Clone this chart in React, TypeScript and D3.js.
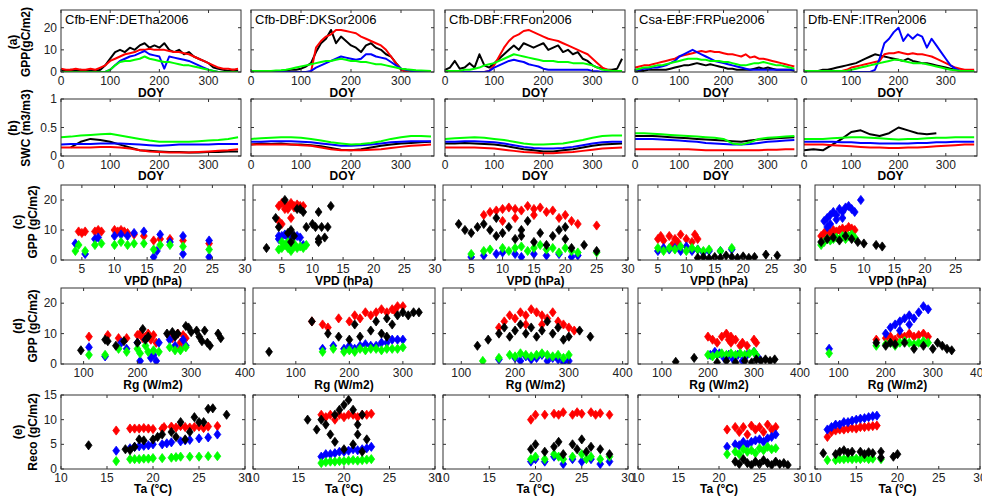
import React from "react";
import * as d3 from "d3";

type Pt = [number, number];
type Val = number | null;

const FONT = "'Liberation Sans', Arial, Helvetica, sans-serif";
const COLORS = { black: "#000000", red: "#ff0000", blue: "#0000ff", green: "#00ff00" };

const sites = ["Cfb-ENF:DETha2006", "Cfb-DBF:DKSor2006", "Cfb-DBF:FRFon2006", "Csa-EBF:FRPue2006", "Dfb-ENF:ITRen2006"];

// ---- row (a): daily GPP, read every 10 days ----
const doyA = [0, 10, 20, 30, 40, 50, 60, 70, 80, 90, 100, 110, 120, 130, 140, 150, 160, 170, 180, 190, 200, 210, 220, 230, 240, 250, 260, 270, 280, 290, 300, 310, 320, 330, 340, 350, 360];

const a1Black = [1, 0.5, 1, 0.5, 1, 0.5, 1, 0.5, 1, 3, 6, 9, 10, 9, 11, 10, 12, 13, 11, 12, 11, 13, 10, 9, 10, 8, 9, 7, 6, 5, 4, 2, 1.5, 1, 0.5, 1, 0.5];
const a1Red = [1.5, 1, 1, 1.5, 1, 1, 1.5, 1, 2, 3, 5, 6, 7, 8, 8.5, 9, 10, 10, 10.5, 10, 10, 10, 9.5, 9, 9, 8.5, 8, 7, 6, 5, 4, 3, 2, 1.5, 1.5, 1, 1.5];
const a1Blue = [0, 0, 0, 0, 0, 0, 0, 0, 0, 0, 1, 3, 5, 6, 7, 7.5, 8.5, 9.5, 8, 7.5, 7, 1.5, 7, 6.5, 6, 5.5, 5, 4, 3, 2, 1, 0.5, 0, 0, 0, 0, 0];
const a1Green = [0, 0, 0, 0, 0, 0, 0, 0, 0, 0, 1, 3, 4.5, 5, 5, 5.5, 6, 7, 6, 5.5, 5, 4.5, 4.5, 4, 3.5, 3, 3, 2.5, 2, 1.5, 1, 0.5, 0, 0, 0, 0, 0];

const a2Black = [0.3, 0.5, 0.3, 0.5, 0.3, 0.5, 0.5, 0.8, 1, 1, 1.5, 2.5, 4, 9, 13, 15, 19, 13, 16, 14, 12, 11, 9, 12, 13, 11, 10, 8, 7, 4, 1.5, 1, 0.5, 0.5, 0.3, 0.3, 0.3];
const a2Red = [0, 0, 0, 0, 0, 0, 0, 0, 0, 0, 0, 0, 0, 11, 14, 16, 17, 19, 19, 18.5, 18, 17.5, 16, 15, 14, 13, 12, 10, 7, 4, 1, 0, 0, 0, 0, 0, 0];
const a2Blue = [0, 0, 0, 0, 0, 0, 0, 0, 0, 0, 0, 0, 0.5, 2, 3, 4, 5, 6, 7, 6.5, 6, 5.5, 6, 8, 8, 7, 6.5, 6, 4.5, 3, 1.5, 1, 0.5, 0.5, 0.3, 0.3, 0.3];
const a2Green = [0.5, 0.5, 0.5, 0.5, 0.5, 0.7, 0.8, 1, 1.5, 2, 2.5, 3, 3.5, 4, 4.5, 5, 5, 5.5, 6, 5.5, 5, 5, 4.5, 4.5, 4, 3.5, 3.5, 3, 2.5, 2, 1.5, 1.2, 1, 0.8, 0.7, 0.6, 0.5];

const a3Black = [1, 2, 5, 1.5, 2, 4, 2, 8, 3, 2, 4, 6, 8, 10, 12, 10, 13, 12, 11, 12, 13, 10, 11, 12, 9, 10, 8, 9, 6, 5, 3, 2, 1.5, 1, 1, 1.5, 6];
const a3Red = [0, 0, 0, 0, 0, 0, 0, 0, 0, 0.5, 3, 7, 11, 14, 16, 17, 18.5, 19, 18, 17, 16, 15, 14.5, 14, 13, 12, 11, 10, 9, 8, 6, 4, 2, 1, 0.5, 0.5, 0.5];
const a3Blue = [0, 0, 0, 0, 0, 0, 0, 0, 0, 0.5, 2, 3, 4, 5, 5.5, 5, 4.5, 3.5, 3, 2.5, 1.5, 1, 1, 1, 1, 1, 1, 1, 1, 1, 0.5, 0.3, 0, 0, 0, 0, 0];
const a3Green = [0.5, 0.5, 0.5, 0.5, 1, 1, 1.5, 2, 3, 3.5, 4, 5, 6, 7, 8, 7.5, 7, 6.5, 6, 5.5, 5, 5, 5, 4.5, 4.5, 4.5, 4, 4, 4, 3.5, 3, 2, 1, 0.8, 0.5, 0.5, 0.5];

const a4Black = [0.5, 0.5, 0.5, 1, 1, 1, 1, 1, 1.5, 2, 2.5, 3, 3, 3.5, 4, 3.5, 3, 3.5, 3, 2.5, 2, 1.5, 1.5, 1, 1, 1, 1, 1.5, 2, 1.5, 2, 1.5, 1, 1, 1, 1, 0.5];
const a4Red = [2, 2.5, 3, 3, 3.5, 4, 4.5, 5, 5.5, 6, 7, 7.5, 8, 8.5, 9, 9.5, 9, 9.5, 9, 9, 8.5, 8, 8, 7.5, 7, 8, 6.5, 7, 6, 6, 5.5, 5, 4.5, 4, 3.5, 3, 2.5];
const a4Blue = [1, 1, 1.5, 1.5, 2, 2, 2.5, 3, 4, 5, 7, 8, 9, 10, 9, 8, 7, 6, 5, 4.5, 4, 3.5, 3, 2.5, 2, 1.5, 1, 1, 1, 1, 1, 1, 1, 1, 1, 1, 1];
const a4Green = [1, 1.5, 2, 2, 2.5, 3, 3, 3.5, 4, 4.5, 5, 5.5, 6, 6, 6, 5.5, 5.5, 5, 5, 5, 4.5, 4.5, 4, 3.5, 3, 3, 3.5, 4, 4, 4.5, 4, 3.5, 3, 3, 2.5, 2, 1.5];

const a5Black = [0.5, 0.5, 0.5, 0.5, 1, 1, 1.5, 2, 2.5, 3, 3.5, 4, 5, 6, 7, 8, 7.5, 7, 6.5, 6, 5.5, 5, 6, 5, 4.5, 4, 4, 3.5, 3, 2.5, 2, 1.5, 1, 0.5, 0.3, 0.3, 0.3];
const a5Red = [0.5, 0.5, 0.5, 0.5, 0.5, 0.5, 0.5, 0.5, 0.5, 1, 2, 2.5, 3, 3.5, 4, 4.5, 5, 8, 8.5, 8.5, 9, 8.5, 8, 8.5, 8, 8, 7.5, 7, 6, 5, 4, 3, 2, 1.5, 1, 1, 1];
const a5Blue = [0, 0, 0, 0, 0, 0, 0, 0, 0, 0, 0, 0, 0, 0, 0, 1, 6, 13, 15, 18, 20, 14, 17, 15, 17, 16, 11, 15, 12, 9, 6, 3, 1.5, 0.5, 0.3, 0, 0];
const a5Green = [0.5, 0.5, 0.5, 0.5, 0.5, 0.5, 0.5, 0.5, 0.5, 0.5, 1, 1.5, 2, 2.5, 3, 3.5, 4, 4.5, 5, 5.5, 5.5, 5, 4.5, 4, 4, 4, 3.5, 3, 2.5, 2, 1.5, 1, 0.8, 0.5, 0.5, 0.5, 0.5];

// ---- row (b): soil water content, read every 20 days ----
const doyB = [0, 20, 40, 60, 80, 100, 120, 140, 160, 180, 200, 220, 240, 260, 280, 300, 320, 340, 360];

const b1Black: Val[] = [null, 0.15, 0.25, 0.3, 0.28, 0.25, 0.2, 0.15, 0.1, 0.09, 0.08, 0.07, 0.07, 0.06, 0.06, 0.07, 0.07, 0.08, 0.08];
const b1Red = [0.15, 0.15, 0.15, 0.15, 0.16, 0.16, 0.15, 0.13, 0.1, 0.08, 0.07, 0.06, 0.06, 0.06, 0.07, 0.08, 0.09, 0.1, 0.12];
const b1Blue = [0.2, 0.21, 0.21, 0.21, 0.22, 0.22, 0.22, 0.21, 0.2, 0.19, 0.18, 0.19, 0.2, 0.2, 0.2, 0.2, 0.21, 0.21, 0.21];
const b1Green = [0.33, 0.34, 0.36, 0.37, 0.38, 0.39, 0.36, 0.33, 0.3, 0.27, 0.25, 0.25, 0.25, 0.25, 0.26, 0.27, 0.28, 0.3, 0.33];

const b2Black = [0.2, 0.22, 0.21, 0.22, 0.2, 0.2, 0.19, 0.17, 0.14, 0.11, 0.1, 0.12, 0.15, 0.18, 0.2, 0.22, 0.23, 0.24, 0.25];
const b2Red = [0.2, 0.2, 0.2, 0.2, 0.2, 0.19, 0.18, 0.15, 0.12, 0.1, 0.1, 0.1, 0.11, 0.12, 0.14, 0.16, 0.18, 0.19, 0.2];
const b2Blue = [0.25, 0.25, 0.26, 0.26, 0.26, 0.25, 0.24, 0.22, 0.2, 0.18, 0.18, 0.19, 0.2, 0.22, 0.24, 0.25, 0.26, 0.26, 0.26];
const b2Green = [0.3, 0.31, 0.32, 0.33, 0.33, 0.32, 0.3, 0.27, 0.24, 0.22, 0.2, 0.21, 0.23, 0.26, 0.3, 0.33, 0.35, 0.35, 0.34];

const b3Black = [0.22, 0.22, 0.23, 0.22, 0.21, 0.2, 0.18, 0.15, 0.12, 0.1, 0.08, 0.08, 0.1, 0.12, 0.15, 0.18, 0.2, 0.21, 0.22];
const b3Red = [0.15, 0.15, 0.15, 0.15, 0.14, 0.13, 0.11, 0.09, 0.07, 0.06, 0.05, 0.05, 0.06, 0.07, 0.09, 0.11, 0.13, 0.14, 0.15];
const b3Blue = [0.25, 0.25, 0.26, 0.26, 0.25, 0.24, 0.22, 0.19, 0.16, 0.14, 0.13, 0.13, 0.14, 0.16, 0.19, 0.22, 0.24, 0.25, 0.25];
const b3Green = [0.3, 0.31, 0.32, 0.33, 0.32, 0.3, 0.28, 0.25, 0.22, 0.2, 0.2, 0.21, 0.22, 0.25, 0.28, 0.32, 0.35, 0.36, 0.36];

const b4Black = [0.35, 0.35, 0.35, 0.34, 0.33, 0.32, 0.31, 0.3, 0.29, 0.28, 0.27, 0.26, 0.25, 0.27, 0.29, 0.3, 0.31, 0.32, 0.33];
const b4Red = [0.12, 0.12, 0.12, 0.12, 0.12, 0.12, 0.12, 0.11, 0.1, 0.1, 0.1, 0.1, 0.1, 0.1, 0.1, 0.11, 0.11, 0.12, 0.12];
const b4Blue = [0.3, 0.3, 0.3, 0.29, 0.28, 0.27, 0.26, 0.25, 0.23, 0.22, 0.21, 0.2, 0.2, 0.21, 0.23, 0.25, 0.26, 0.27, 0.28];
const b4Green = [0.4, 0.4, 0.39, 0.38, 0.37, 0.36, 0.35, 0.34, 0.33, 0.32, 0.3, 0.22, 0.2, 0.24, 0.3, 0.32, 0.33, 0.34, 0.35];

const b5Black: Val[] = [0.1, 0.12, 0.1, 0.2, 0.3, 0.42, 0.45, 0.38, 0.35, 0.4, 0.5, 0.45, 0.4, 0.38, 0.4, null, null, null, null];
const b5Red = [0.2, 0.2, 0.2, 0.19, 0.18, 0.17, 0.16, 0.15, 0.15, 0.14, 0.14, 0.15, 0.15, 0.16, 0.17, 0.18, 0.19, 0.2, 0.2];
const b5Blue = [0.25, 0.25, 0.25, 0.25, 0.24, 0.24, 0.23, 0.23, 0.22, 0.22, 0.22, 0.22, 0.23, 0.23, 0.24, 0.24, 0.25, 0.25, 0.25];
const b5Green = [0.3, 0.3, 0.3, 0.31, 0.32, 0.33, 0.33, 0.32, 0.31, 0.3, 0.29, 0.3, 0.3, 0.31, 0.32, 0.32, 0.33, 0.33, 0.33];

// ---- row (c): GPP vs VPD ----
const c1Red: Pt[] = [[4.5, 9.5], [5, 9], [5.5, 9.5], [7, 9.5], [7.5, 10], [8, 9.5], [10, 10], [10.5, 9.5], [11, 10], [11.5, 9.5], [12, 9], [13, 8.5], [14.5, 8], [16, 6.5], [17, 7], [18.5, 7], [20.5, 6.5], [24.5, 5.5]];
const c1Blue: Pt[] = [[4, 5.5], [5.5, 2], [7, 7], [7.5, 7.5], [10, 8], [11, 8.5], [12, 8], [13, 9], [14.5, 9.5], [16, 1], [16.5, 3], [17, 8.5], [18.5, 6], [20.5, 8], [20.5, 2], [24.5, 1], [24.5, 6.5]];
const c1Green: Pt[] = [[4, 3], [4.5, 5], [5.5, 3], [7, 5], [8, 5.5], [10, 5], [11, 6], [12, 5], [13, 5.5], [14.5, 5.5], [16, 3.5], [17, 5], [18.5, 5], [20.5, 4.5], [24.5, 3.5]];
const c1Black: Pt[] = [];

const c2Red: Pt[] = [[4.5, 18], [5, 19], [5.5, 18.5], [6, 18], [6.5, 19], [7, 18], [7.5, 18.5], [8, 18], [8.5, 18], [4.5, 13], [5, 12], [6.5, 14], [6, 17], [5.5, 17], [7, 17.5]];
const c2Blue: Pt[] = [[4.5, 8], [5, 8], [5.5, 8.5], [6, 8], [6.5, 8.5], [7, 8], [7.5, 8], [8, 7.5], [4.5, 7], [6, 7.5], [7, 5], [8.5, 5]];
const c2Green: Pt[] = [[4.5, 3.5], [5, 4], [5.5, 5], [6, 4], [6.5, 5], [7, 4.5], [7.5, 4], [8, 4.5], [8.5, 4], [9, 5], [5, 6], [6, 6], [7, 5.5], [6.5, 3]];
const c2Black: Pt[] = [[2.5, 4], [4, 14], [4.5, 11], [5.5, 20], [6, 9], [6.5, 10], [7, 8], [7.5, 17], [8, 17], [8.5, 16], [9, 11], [10, 12], [10.5, 11], [11, 16], [11, 7], [11, 6], [11.5, 11], [12, 7.5], [12.5, 11], [13, 18], [6.5, 6]];

const c3Red: Pt[] = [[7, 15], [8, 16], [9, 16.5], [10, 17], [11, 17.5], [12, 17], [13, 16.5], [14, 18], [15, 17], [16, 17.5], [17, 16], [18, 16.5], [19, 14], [20, 15], [21, 13], [22, 12], [25, 11.5], [10, 13], [12, 14], [15, 15]];
const c3Blue: Pt[] = [[5, 1], [7, 1.5], [9, 2], [10, 2.5], [12, 2], [13, 1], [15, 2], [17, 1.5], [19, 2], [21, 1], [22, 1.5]];
const c3Green: Pt[] = [[5, 2], [7, 3], [8, 3.5], [10, 4], [11, 3], [12, 4], [13, 4.5], [14, 3], [15, 4], [16, 5], [17, 3.5], [18, 4], [19, 2.5], [20, 4], [21, 3], [22, 2.5], [25, 2.5]];
const c3Black: Pt[] = [[3, 12], [4, 10], [5, 9], [6, 11], [7, 12], [8, 10], [9, 8], [10, 9], [11, 11], [12, 7], [13, 8], [14, 13], [15, 6], [16, 9], [17, 5], [18, 8], [19, 10], [20, 7], [21, 4], [23, 5], [25, 3], [9, 14], [13, 10], [20, 11]];

const c4Red: Pt[] = [[5, 7], [5.5, 8], [6, 6.5], [7, 8], [8, 7], [8.5, 6], [9, 8.5], [10, 7], [11, 6], [12, 7], [7.5, 5], [11.5, 8.5]];
const c4Blue: Pt[] = [[5, 3], [6, 4], [7, 3.5], [8, 4], [9, 3], [10, 4.5], [11, 3], [12, 3.5], [13, 2.5], [14, 3], [16, 3], [18, 3.5]];
const c4Green: Pt[] = [[5, 4], [6, 3], [7, 4], [8, 3.5], [9, 4.5], [10, 3], [11, 4], [12, 3.5], [13, 3], [14, 3.5], [16, 3], [18, 4]];
const c4Black: Pt[] = [[12, 0.7], [13, 1], [14, 0.5], [15, 1], [16, 0.7], [17, 1.5], [18, 1], [19, 0.7], [20, 1.2], [21, 0.7], [22, 1], [24, 1.8], [26, 1.5]];

const c5Red: Pt[] = [[3, 8], [3.5, 9], [4, 10], [4.5, 9], [5, 10], [5.5, 9.5], [6, 10], [6.5, 10.5], [7, 10], [7.5, 11], [8, 10.5], [8.5, 10]];
const c5Blue: Pt[] = [[3.5, 13], [4, 14], [4.5, 15], [5, 16], [5.5, 15], [6, 17], [6.5, 16], [7, 17.5], [7.5, 18], [8, 17], [8.5, 16], [9.5, 20], [4.5, 12], [4, 11], [5.5, 13.5], [6.5, 14]];
const c5Green: Pt[] = [[3, 5], [3.5, 6], [4, 7], [4.5, 6.5], [5, 7], [5.5, 7.5], [6, 7], [6.5, 8], [7, 7], [7.5, 8], [8, 8.5], [8.5, 7.5]];
const c5Black: Pt[] = [[3, 6], [4, 7], [5, 7.5], [6, 6.5], [7, 8], [8, 7], [9, 6], [10, 5.5], [12, 5], [13, 4.5]];

// ---- row (d): GPP vs Rg ----
const d1Red: Pt[] = [[110, 9], [145, 9.5], [165, 8.5], [180, 8.5], [200, 9.5], [205, 10], [210, 8.5], [215, 9], [220, 10], [225, 8], [230, 9.5], [235, 7], [260, 9], [265, 8.5], [275, 10], [280, 7], [285, 9.5], [290, 8.5], [280, 5]];
const d1Blue: Pt[] = [[110, 5.5], [140, 2.5], [170, 7], [180, 5], [200, 7], [205, 1], [215, 8], [225, 2], [230, 3], [235, 1], [240, 7], [260, 8], [270, 6], [285, 8], [290, 6]];
const d1Green: Pt[] = [[110, 3], [140, 3], [165, 5], [180, 4], [200, 5], [205, 3.5], [215, 6], [220, 4], [230, 4.5], [240, 4], [260, 5.5], [270, 4.5], [280, 4.5], [290, 5.5]];
const d1Black: Pt[] = [[95, 4.5], [140, 8], [145, 7.5], [160, 6], [175, 7.5], [200, 7], [210, 11.5], [215, 8], [220, 9], [255, 10], [265, 10.5], [270, 9], [275, 10], [290, 12.5], [295, 12], [300, 10.5], [310, 11], [315, 9], [320, 7.5], [325, 11], [330, 7], [335, 6], [350, 10], [355, 8.5]];

const d2Red: Pt[] = [[130, 14], [150, 13], [160, 12], [180, 15], [200, 14], [210, 16], [220, 15], [230, 17], [240, 16], [250, 17], [260, 18], [270, 17], [280, 18], [290, 19], [300, 19], [285, 17.5]];
const d2Blue: Pt[] = [[150, 5], [170, 6], [190, 5], [200, 6], [210, 5], [220, 6], [230, 6.5], [240, 6], [250, 6], [260, 7], [270, 7], [280, 8], [290, 8], [300, 8]];
const d2Green: Pt[] = [[150, 4], [170, 5], [190, 4], [200, 4.5], [210, 4], [220, 5], [230, 4.5], [240, 5], [250, 5], [260, 4.5], [270, 5], [280, 5], [290, 5], [300, 5.5]];
const d2Black: Pt[] = [[50, 4], [130, 14], [160, 10], [180, 9], [200, 8], [210, 13], [220, 9], [240, 11], [250, 14], [260, 10], [270, 15], [280, 13], [290, 16], [300, 17], [310, 16], [320, 17], [330, 17], [270, 9]];

const d3Red: Pt[] = [[170, 12], [180, 14], [190, 16], [200, 15], [210, 17], [220, 16], [230, 18], [240, 17], [250, 16], [260, 15], [270, 17], [280, 14], [290, 13], [300, 12], [310, 11], [220, 13], [250, 13]];
const d3Blue: Pt[] = [[170, 1.5], [200, 2], [210, 1], [220, 2.5], [230, 1.5], [240, 2], [250, 3], [260, 1], [270, 2], [280, 1.5], [290, 0.5], [300, 1]];
const d3Green: Pt[] = [[140, 1], [170, 2], [190, 3], [200, 2.5], [210, 3.5], [220, 3], [230, 2.5], [240, 3], [250, 3.5], [260, 3], [270, 2.5], [280, 3], [290, 2], [300, 3]];
const d3Black: Pt[] = [[130, 6], [150, 8], [170, 10], [180, 12], [190, 9], [200, 11], [210, 13], [220, 10], [230, 12], [240, 9], [250, 11], [260, 14], [270, 10], [280, 12], [290, 8], [300, 9], [320, 11], [340, 9]];

const d4Red: Pt[] = [[200, 9], [210, 8], [220, 7], [230, 9], [240, 10], [245, 8], [250, 7], [260, 8], [270, 6], [275, 7], [285, 6], [300, 8], [305, 7], [250, 9]];
const d4Blue: Pt[] = [[205, 3], [215, 4], [225, 3.5], [235, 2], [245, 3], [255, 1.5], [265, 3], [275, 1], [285, 3], [300, 4], [310, 2]];
const d4Green: Pt[] = [[200, 3], [210, 2.5], [220, 3], [230, 3.5], [240, 3], [250, 3.5], [260, 3], [270, 3.5], [280, 3], [290, 3.5], [300, 4], [305, 3]];
const d4Black: Pt[] = [[130, 0.7], [170, 2], [220, 0.5], [240, 1], [260, 0.5], [280, 1], [295, 0.5], [305, 1.5], [315, 1], [325, 1.5], [335, 1], [345, 1.5]];

const d5Red: Pt[] = [[180, 8], [200, 8.5], [210, 9], [220, 8], [230, 9.5], [240, 9], [250, 10], [260, 9], [270, 9.5], [280, 10], [290, 9]];
const d5Blue: Pt[] = [[80, 5], [200, 10], [210, 12], [220, 13], [230, 14], [240, 15], [250, 16], [260, 15], [270, 17], [280, 19], [290, 18], [230, 11], [250, 13]];
const d5Green: Pt[] = [[80, 3.5], [180, 6], [200, 6.5], [210, 7], [220, 6], [230, 7], [240, 7.5], [250, 7], [260, 6.5], [270, 7], [280, 7.5], [290, 7]];
const d5Black: Pt[] = [[180, 7], [200, 6], [210, 7], [220, 6.5], [240, 7], [260, 5], [280, 6], [300, 5], [310, 7], [320, 6], [330, 5], [340, 4.5]];

// ---- row (e): Reco vs Ta ----
const e1Red: Pt[] = [[16, 7.8], [17.5, 8.2], [18, 8.2], [18.5, 8.2], [19, 8.3], [19.5, 8.2], [20, 8.1], [21, 8.2], [21.2, 8.5], [22, 8.6], [22.5, 8.4], [23, 8.7], [23.5, 8.5], [24, 8.4], [24.5, 8.5], [25, 8.6], [25.5, 8.3], [26, 8.6], [27, 8.7]];
const e1Blue: Pt[] = [[16, 3.7], [17.5, 4.2], [18, 4.5], [18.5, 4.6], [19, 4.7], [19.5, 4.8], [20, 5], [21, 5], [21.5, 5.2], [22, 5.4], [23, 5.6], [23.5, 5.8], [24, 5.9], [25, 6.2], [26, 6.4], [27, 7]];
const e1Green: Pt[] = [[16, 1.6], [17.5, 2], [18, 2], [18.5, 2], [19, 2.1], [19.5, 2.1], [20, 2.2], [21, 2.2], [22, 2.3], [22.5, 2.4], [23, 2.5], [24, 2.5], [25, 2.5], [26, 2.6], [27, 2.6]];
const e1Black: Pt[] = [[13, 4.8], [17, 4], [17.5, 3.8], [18, 4.5], [18.5, 6], [19, 5.8], [20, 6], [20.5, 6.5], [21, 7], [22, 7.5], [22.5, 6.5], [23, 9.5], [23.5, 6], [24, 7.5], [24.5, 10.5], [25, 9.5], [25.5, 9.5], [26, 12.2], [26.5, 12.3], [28, 11]];

const e2Red: Pt[] = [[17.5, 11], [18, 10.5], [18.5, 11], [19, 10], [19.5, 11], [20, 10.5], [20.5, 11], [21, 11], [21.5, 10.5], [22, 11], [22.5, 11], [23, 11.2]];
const e2Blue: Pt[] = [[17.5, 2.5], [18, 3], [18.5, 3], [19, 3.2], [19.5, 3.5], [20, 3.5], [20.5, 3.7], [21, 4], [21.5, 3.8], [22, 4], [22.5, 4.2], [23, 4.5]];
const e2Green: Pt[] = [[17.5, 1.2], [18, 1.4], [18.5, 1.5], [19, 1.5], [19.5, 1.6], [20, 1.6], [20.5, 1.7], [21, 1.8], [21.5, 1.7], [22, 1.8], [22.5, 1.9], [23, 2]];
const e2Black: Pt[] = [[16, 10], [17, 8], [17.5, 10], [18, 9], [18.5, 7], [19, 11], [19.5, 12], [20, 13], [20.5, 14], [21, 12], [21.5, 9], [22, 11], [22.5, 6], [20, 4], [21, 5], [21.5, 7], [22, 3.5], [19, 5.5]];

const e3Red: Pt[] = [[19.5, 10], [20, 11], [21, 11], [22, 11.2], [22.5, 11], [23, 11.5], [24, 11], [24.5, 11.5], [25, 11.2], [26, 11.5], [26.5, 11], [27, 11.3], [28, 11]];
const e3Blue: Pt[] = [[19.5, 1.5], [20, 2], [21, 1.5], [22, 2.5], [23, 1], [24, 2], [25, 1.5], [26, 2], [27, 1], [28, 1.5]];
const e3Green: Pt[] = [[19.5, 2], [20, 2.5], [21, 2], [22, 3], [22.5, 2.5], [23, 2], [24, 2.5], [25, 3], [25.5, 2], [26, 2.5], [27, 2], [28, 2.5]];
const e3Black: Pt[] = [[19.5, 4], [20, 5], [21, 3.5], [22, 4.5], [22.5, 5.5], [23, 3], [24, 5], [24.5, 4], [25, 6], [25.5, 3.5], [26, 4.5], [27, 4], [28, 3]];

const e4Red: Pt[] = [[21, 8], [22, 8.5], [22.5, 7.5], [23, 8.5], [23.5, 7], [24, 8.8], [24.5, 8], [25, 8.5], [25.5, 7.5], [26, 9], [26.5, 8], [27, 8.5]];
const e4Blue: Pt[] = [[21, 4.5], [22, 5], [22.5, 4.8], [23, 5.5], [23.5, 5], [24, 5.5], [24.5, 5.8], [25, 6], [25.5, 5.5], [26, 6.2], [26.5, 6.5], [27, 7]];
const e4Green: Pt[] = [[21, 3], [22, 3.5], [22.5, 3], [23, 4], [23.5, 3.5], [24, 3.8], [24.5, 3.2], [25, 4.2], [25.5, 3.8], [26, 4.5], [26.5, 4], [27, 4.2]];
const e4Black: Pt[] = [[22, 1.5], [22.5, 1], [23, 2], [23.5, 1.2], [24, 0.8], [24.5, 1.5], [25, 1], [25.5, 1.8], [26, 1.2], [26.5, 0.8], [27, 1.5], [27.5, 1], [28, 1.2], [28.5, 0.8]];

const e5Red: Pt[] = [[11.5, 6.5], [12, 7.5], [12.5, 7.8], [13, 8], [13.5, 8], [14, 8.2], [14.5, 8.3], [15, 8.2], [15.5, 8.5], [16, 8.5], [16.5, 8.6], [17, 8.7], [17.5, 8.8]];
const e5Blue: Pt[] = [[11.5, 8], [12, 8.5], [12.5, 9], [13, 9], [13.5, 9.5], [14, 9.5], [14.5, 9.8], [15, 10], [15.5, 10.2], [16, 10.3], [16.5, 10.5], [17, 10.7], [17.5, 10.8]];
const e5Green: Pt[] = [[11.5, 1.8], [12.5, 1.8], [13, 2], [13.5, 2], [14, 2.1], [14.5, 2], [15, 2.1], [15.5, 2], [16, 2.2], [16.5, 2], [17, 2.1], [18, 2]];
const e5Black: Pt[] = [[11, 3.2], [12.5, 3], [13, 3.5], [13.5, 3.8], [14, 3.3], [14.5, 3.5], [15.5, 3.5], [16, 3], [16.5, 3.4], [17, 3.2], [18, 3.5], [18, 2.3], [19.5, 2.5], [20, 3]];

// ---- layout ----
const colsAB: [number, number][] = [[61, 241], [251, 434], [445, 625], [635, 797], [804, 977]];
const colsCDE: [number, number][] = [[61, 245], [253, 435], [443, 628], [638, 800], [815, 980]];
const rowY = { a: [10, 72], b: [99, 156], c: [185, 260], d: [288, 364], e: [395, 469] };

const doyTicks = [0, 100, 200, 300];
const vpdTicks = [5, 10, 15, 20, 25, 30];
const rgTicks = [100, 200, 300, 400];
const taTicks = [10, 15, 20, 25, 30];

const vpdDomains: [number, number][] = [[1.8, 30], [0.3, 30], [0.5, 30], [1.5, 30], [2, 29]];
const rgDomains: [number, number][] = [[58, 400], [20, 360], [66, 410], [48, 400], [50, 400]];

const diamond = "M0,-4.6L3.4,0L0,4.6L-3.4,0Z";

type LineSeries = { xs: number[]; ys: Val[]; color: string };
type PointSeries = { pts: Pt[]; color: string };

function Panel(props: {
  id: string;
  xr: [number, number];
  yr: number[];
  xDomain: [number, number];
  yDomain: [number, number];
  xTicks: number[];
  yTicks: number[];
  showY: boolean;
  xLabel: string;
  labelY: number;
  title?: string;
  lines?: LineSeries[];
  points?: PointSeries[];
}) {
  const { id, xr, yr, xDomain, yDomain, showY, xLabel, labelY, title } = props;
  const x = d3.scaleLinear().domain(xDomain).range(xr);
  const y = d3.scaleLinear().domain(yDomain).range([yr[1], yr[0]]);
  const xTicks = props.xTicks.filter((t) => t >= xDomain[0] - 1e-9 && t <= xDomain[1] + 1e-9);
  const yTicks = props.yTicks;
  const line = d3
    .line<[number, Val]>()
    .defined((d) => d[1] != null)
    .x((d) => x(d[0]))
    .y((d) => y(d[1] as number));
  const tk = 3;
  return (
    <g>
      <defs>
        <clipPath id={id}>
          <rect x={xr[0]} y={yr[0]} width={xr[1] - xr[0]} height={yr[1] - yr[0]} />
        </clipPath>
      </defs>
      <rect x={xr[0]} y={yr[0]} width={xr[1] - xr[0]} height={yr[1] - yr[0]} fill="#fff" />
      <g clipPath={`url(#${id})`}>
        {(props.lines || []).map((s, i) => (
          <path
            key={i}
            d={line(s.xs.map((v, j) => [v, s.ys[j]] as [number, Val])) || ""}
            fill="none"
            stroke={s.color}
            strokeWidth={2}
            strokeLinejoin="round"
          />
        ))}
        {(props.points || []).map((s, i) => (
          <g key={i} fill={s.color} stroke={s.color} strokeWidth={0.8}>
            {s.pts.map((p, j) => (
              <path key={j} d={diamond} transform={`translate(${x(p[0])},${y(p[1])})`} />
            ))}
          </g>
        ))}
      </g>
      <rect x={xr[0]} y={yr[0]} width={xr[1] - xr[0]} height={yr[1] - yr[0]} fill="none" stroke="#333" strokeWidth={1} />
      {xTicks.map((t) => (
        <g key={"x" + t}>
          <line x1={x(t)} x2={x(t)} y1={yr[1]} y2={yr[1] - tk} stroke="#333" />
          <line x1={x(t)} x2={x(t)} y1={yr[0]} y2={yr[0] + tk} stroke="#333" />
          <text x={x(t)} y={yr[1] + 13} textAnchor="middle" fontSize={12} fill="#222">
            {t}
          </text>
        </g>
      ))}
      {yTicks.map((t) => (
        <g key={"y" + t}>
          <line x1={xr[0]} x2={xr[0] + tk} y1={y(t)} y2={y(t)} stroke="#333" />
          <line x1={xr[1]} x2={xr[1] - tk} y1={y(t)} y2={y(t)} stroke="#333" />
          {showY && (
            <text x={xr[0] - 4} y={y(t) + 4} textAnchor="end" fontSize={12} fill="#222">
              {t}
            </text>
          )}
        </g>
      ))}
      <text x={(xr[0] + xr[1]) / 2} y={labelY} textAnchor="middle" fontSize={12} fontWeight="bold" fill="#000">
        {xLabel}
      </text>
      {title && (
        <text x={xr[0] + 4} y={yr[0] + 14} fontSize={13} fill="#000">
          {title}
        </text>
      )}
    </g>
  );
}

const lineSets = (k: Val[][], xs: number[]): LineSeries[] => [
  { xs, ys: k[0], color: COLORS.black },
  { xs, ys: k[1], color: COLORS.red },
  { xs, ys: k[2], color: COLORS.blue },
  { xs, ys: k[3], color: COLORS.green },
];
const pointSets = (k: Pt[][]): PointSeries[] => [
  { pts: k[0], color: COLORS.red },
  { pts: k[1], color: COLORS.blue },
  { pts: k[2], color: COLORS.green },
  { pts: k[3], color: COLORS.black },
];

const rowA = [
  [a1Black, a1Red, a1Blue, a1Green],
  [a2Black, a2Red, a2Blue, a2Green],
  [a3Black, a3Red, a3Blue, a3Green],
  [a4Black, a4Red, a4Blue, a4Green],
  [a5Black, a5Red, a5Blue, a5Green],
];
const rowB = [
  [b1Black, b1Red, b1Blue, b1Green],
  [b2Black, b2Red, b2Blue, b2Green],
  [b3Black, b3Red, b3Blue, b3Green],
  [b4Black, b4Red, b4Blue, b4Green],
  [b5Black, b5Red, b5Blue, b5Green],
];
const rowC = [
  [c1Red, c1Blue, c1Green, c1Black],
  [c2Red, c2Blue, c2Green, c2Black],
  [c3Red, c3Blue, c3Green, c3Black],
  [c4Red, c4Blue, c4Green, c4Black],
  [c5Red, c5Blue, c5Green, c5Black],
];
const rowD = [
  [d1Red, d1Blue, d1Green, d1Black],
  [d2Red, d2Blue, d2Green, d2Black],
  [d3Red, d3Blue, d3Green, d3Black],
  [d4Red, d4Blue, d4Green, d4Black],
  [d5Red, d5Blue, d5Green, d5Black],
];
const rowE = [
  [e1Red, e1Blue, e1Green, e1Black],
  [e2Red, e2Blue, e2Green, e2Black],
  [e3Red, e3Blue, e3Green, e3Black],
  [e4Red, e4Blue, e4Green, e4Black],
  [e5Red, e5Blue, e5Green, e5Black],
];

function RowLabel({ tag, label, cy, x1, x2 }: { tag: string; label: string; cy: number; x1: number; x2: number }) {
  return (
    <g fontWeight="bold" fontSize={12} textAnchor="middle" fill="#000">
      <text transform={`translate(${x1},${cy}) rotate(-90)`}>{tag}</text>
      <text transform={`translate(${x2},${cy}) rotate(-90)`}>{label}</text>
    </g>
  );
}

export default function App() {
  return (
    <svg width={982} height={496} style={{ position: "absolute", left: 0, top: 0, background: "#fff" }} fontFamily={FONT}>
      <rect width={982} height={496} fill="#fff" />
      {colsAB.map((c, i) => (
        <Panel
          key={"a" + i}
          id={"ca" + i}
          xr={c}
          yr={rowY.a}
          xDomain={[0, 366]}
          yDomain={[0, 28]}
          xTicks={doyTicks}
          yTicks={[0, 10, 20]}
          showY={i === 0}
          xLabel="DOY"
          labelY={97}
          title={sites[i]}
          lines={lineSets(rowA[i], doyA)}
        />
      ))}
      {colsAB.map((c, i) => (
        <Panel
          key={"b" + i}
          id={"cb" + i}
          xr={c}
          yr={rowY.b}
          xDomain={[0, 366]}
          yDomain={[0, 1]}
          xTicks={doyTicks}
          yTicks={[0, 0.5, 1]}
          showY={i === 0}
          xLabel="DOY"
          labelY={180}
          lines={lineSets(rowB[i], doyB)}
        />
      ))}
      {colsCDE.map((c, i) => (
        <Panel
          key={"c" + i}
          id={"cc" + i}
          xr={c}
          yr={rowY.c}
          xDomain={vpdDomains[i]}
          yDomain={[0, 25]}
          xTicks={vpdTicks}
          yTicks={[0, 10, 20]}
          showY={i === 0}
          xLabel="VPD (hPa)"
          labelY={285}
          points={pointSets(rowC[i])}
        />
      ))}
      {colsCDE.map((c, i) => (
        <Panel
          key={"d" + i}
          id={"cd" + i}
          xr={c}
          yr={rowY.d}
          xDomain={rgDomains[i]}
          yDomain={[0, 25]}
          xTicks={rgTicks}
          yTicks={[0, 10, 20]}
          showY={i === 0}
          xLabel="Rg (W/m2)"
          labelY={389}
          points={pointSets(rowD[i])}
        />
      ))}
      {colsCDE.map((c, i) => (
        <Panel
          key={"e" + i}
          id={"ce" + i}
          xr={c}
          yr={rowY.e}
          xDomain={[10, 30]}
          yDomain={[0, 15]}
          xTicks={taTicks}
          yTicks={[0, 5, 10, 15]}
          showY={i === 0}
          xLabel="Ta (°C)"
          labelY={493}
          points={pointSets(rowE[i])}
        />
      ))}
      <RowLabel tag="(a)" label="GPP(gC/m2)" cy={42} x1={17} x2={30} />
      <RowLabel tag="(b)" label="SWC (m3/m3)" cy={128} x1={17} x2={30} />
      <RowLabel tag="(c)" label="GPP (gC/m2)" cy={222} x1={22} x2={37} />
      <RowLabel tag="(d)" label="GPP (gC/m2)" cy={326} x1={22} x2={37} />
      <RowLabel tag="(e)" label="Reco (gC/m2)" cy={432} x1={22} x2={37} />
    </svg>
  );
}
